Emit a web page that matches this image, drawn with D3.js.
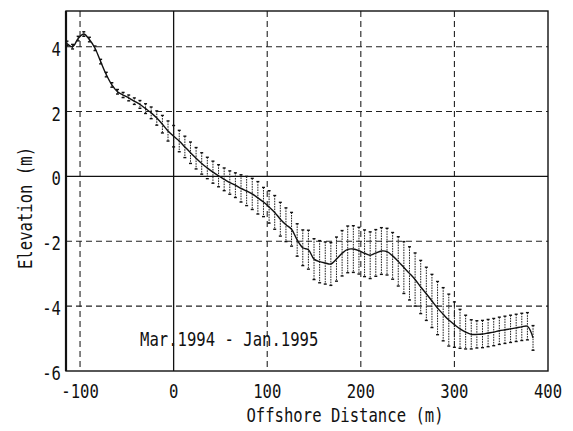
<!DOCTYPE html>
<html>
<head>
<meta charset="utf-8">
<script src="https://cdn.jsdelivr.net/npm/d3@7"></script>
<style>
  html, body { margin: 0; padding: 0; background: #fff; }
  svg { display: block; }
  text { font-family: "DejaVu Sans Mono", "Liberation Mono", monospace; fill: #111; }
</style>
</head>
<body>
<svg id="chart" width="573" height="431"></svg>
<script>
// ---- data ----
const xTicks = [-100, 0, 100, 200, 300, 400];
const yTicks = [-6, -4, -2, 0, 2, 4];
const xTickLabels = ["-100", "0", "100", "200", "300", "400"];
const yTickLabels = ["-6", "-4", "-2", "0", "2", "4"];

const distance = [
  -114, -108, -102, -96, -90, -84, -78, -72, -66, -60,
  -54, -48, -42, -36, -30, -24, -18, -12, -6, 0,
  6, 12, 18, 24, 30, 36, 42, 48, 54, 60,
  66, 72, 78, 84, 90, 96, 102, 108, 114, 120,
  126, 132, 138, 144, 150, 156, 162, 168, 174, 180,
  186, 192, 198, 204, 210, 216, 222, 228, 234, 240,
  246, 252, 258, 264, 270, 276, 282, 288, 294, 300,
  306, 312, 318, 324, 330, 336, 342, 348, 354, 360,
  366, 372, 378, 384
];
const meanElevation = [
  4.10, 4.00, 4.25, 4.39, 4.22, 3.95, 3.54, 3.14, 2.82, 2.61,
  2.51, 2.42, 2.32, 2.22, 2.09, 1.96, 1.80, 1.61, 1.40, 1.24,
  1.09, 0.91, 0.73, 0.56, 0.40, 0.26, 0.13, 0.02, -0.09, -0.19,
  -0.27, -0.37, -0.45, -0.54, -0.66, -0.79, -0.94, -1.11, -1.32, -1.49,
  -1.63, -1.96, -2.20, -2.26, -2.55, -2.63, -2.67, -2.70, -2.55, -2.37,
  -2.25, -2.24, -2.29, -2.37, -2.43, -2.36, -2.30, -2.32, -2.45, -2.62,
  -2.81, -2.99, -3.18, -3.41, -3.62, -3.84, -4.06, -4.25, -4.43, -4.57,
  -4.70, -4.80, -4.87, -4.87, -4.86, -4.83, -4.80, -4.76, -4.73, -4.70,
  -4.67, -4.64, -4.62, -4.98
];
const halfRange = [
  0.07, 0.07, 0.07, 0.07, 0.07, 0.07, 0.07, 0.07, 0.07, 0.07,
  0.08, 0.09, 0.10, 0.12, 0.15, 0.18, 0.22, 0.27, 0.31, 0.33,
  0.33, 0.33, 0.33, 0.33, 0.33, 0.33, 0.34, 0.34, 0.35, 0.36,
  0.38, 0.42, 0.45, 0.48, 0.50, 0.45, 0.50, 0.52, 0.52, 0.52,
  0.52, 0.50, 0.55, 0.60, 0.63, 0.65, 0.65, 0.66, 0.68, 0.70,
  0.72, 0.72, 0.72, 0.72, 0.72, 0.72, 0.72, 0.72, 0.72, 0.76,
  0.80, 0.82, 0.82, 0.82, 0.82, 0.82, 0.82, 0.82, 0.80, 0.70,
  0.60, 0.52, 0.45, 0.42, 0.42, 0.42, 0.42, 0.42, 0.42, 0.42,
  0.42, 0.42, 0.42, 0.38
];
const xTitle = "Offshore Distance (m)";
const yTitle = "Elevation (m)";
const note = "Mar.1994 - Jan.1995";

// ---- layout ----
const svg = d3.select("#chart");
const L = 66, R = 548, T = 11, B = 371;
const x = d3.scaleLinear().domain([-115, 400]).range([L, R]);
const y = d3.scaleLinear().domain([-6, 5.1]).range([B, T]);
const FS = 18;
const SX = 0.867, SY = 1.12; // tall narrow plotter-style lettering

const pts = distance.map((d, i) => ({ d, m: meanElevation[i], s: halfRange[i] }));

// grid lines
const g = svg.append("g");
g.selectAll("line.vg").data(xTicks.filter(v => v !== 0 && v !== 400)).join("line")
  .attr("x1", d => x(d)).attr("x2", d => x(d)).attr("y1", T).attr("y2", B)
  .attr("stroke", "#222").attr("stroke-width", 1.1).attr("stroke-dasharray", "6,4");
g.selectAll("line.hg").data(yTicks.filter(v => v !== 0 && v !== -6)).join("line")
  .attr("x1", L).attr("x2", R).attr("y1", d => y(d)).attr("y2", d => y(d))
  .attr("stroke", "#222").attr("stroke-width", 1.1).attr("stroke-dasharray", "6,4");
// solid zero lines
g.append("line").attr("x1", x(0)).attr("x2", x(0)).attr("y1", T).attr("y2", B)
  .attr("stroke", "#111").attr("stroke-width", 1.3);
g.append("line").attr("x1", L).attr("x2", R).attr("y1", y(0)).attr("y2", y(0))
  .attr("stroke", "#111").attr("stroke-width", 1.3);

// frame
svg.append("rect").attr("x", L).attr("y", T).attr("width", R - L).attr("height", B - T)
  .attr("fill", "none").attr("stroke", "#111").attr("stroke-width", 1.4);
svg.append("line").attr("x1", L).attr("x2", L).attr("y1", T).attr("y2", B)
  .attr("stroke", "#111").attr("stroke-width", 2.2);

// error bars
const eb = svg.append("g");
eb.selectAll("line.bar").data(pts).join("line")
  .attr("x1", d => x(d.d)).attr("x2", d => x(d.d))
  .attr("y1", d => y(d.m + d.s)).attr("y2", d => y(d.m - d.s))
  .attr("stroke", "#222").attr("stroke-width", 1).attr("stroke-dasharray", "1.6,1");
eb.selectAll("line.capt").data(pts).join("line")
  .attr("x1", d => x(d.d) - 1.5).attr("x2", d => x(d.d) + 1.5)
  .attr("y1", d => y(d.m + d.s)).attr("y2", d => y(d.m + d.s))
  .attr("stroke", "#111").attr("stroke-width", 1.4);
eb.selectAll("line.capb").data(pts).join("line")
  .attr("x1", d => x(d.d) - 1.5).attr("x2", d => x(d.d) + 1.5)
  .attr("y1", d => y(d.m - d.s)).attr("y2", d => y(d.m - d.s))
  .attr("stroke", "#111").attr("stroke-width", 1.4);

// mean profile
const line = d3.line().x(d => x(d.d)).y(d => y(d.m)).curve(d3.curveCatmullRom);
svg.append("path").datum(pts).attr("d", line)
  .attr("fill", "none").attr("stroke", "#111").attr("stroke-width", 1.4);

// tick labels
function place(px, py, rot) {
  return `translate(${px},${py})` + (rot ? ` rotate(${rot})` : "") + ` scale(${SX},${SY})`;
}
svg.selectAll("text.xt").data(xTicks).join("text")
  .attr("class", "xt").attr("text-anchor", "middle").attr("font-size", FS)
  .attr("transform", d => place(x(d), 398))
  .text((d, i) => xTickLabels[i]);
svg.selectAll("text.yt").data(yTicks).join("text")
  .attr("class", "yt").attr("text-anchor", "end").attr("font-size", FS)
  .attr("transform", d => place(61, y(d) + 9))
  .text((d, i) => yTickLabels[i]);

// titles
svg.append("text").attr("text-anchor", "middle").attr("font-size", FS)
  .attr("transform", place(345, 422)).text(xTitle);
svg.append("text").attr("text-anchor", "middle").attr("font-size", FS)
  .attr("transform", place(32, 208, -90)).text(yTitle);
svg.append("text").attr("text-anchor", "start").attr("font-size", FS)
  .attr("transform", place(140, 346)).text(note);
</script>
</body>
</html>
